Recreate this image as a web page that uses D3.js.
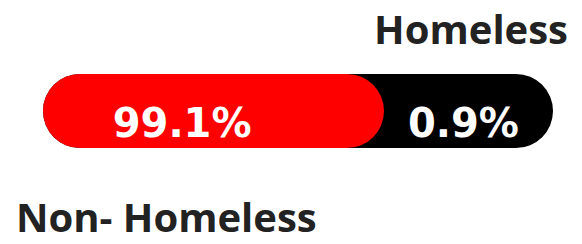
<!DOCTYPE html>
<html>
<head>
<meta charset="utf-8">
<script src="https://cdn.jsdelivr.net/npm/d3@7"></script>
<style>
  body { margin: 0; background: #fff; }
  svg { display: block; }
  .title { font-family: "Open Sans", sans-serif; font-weight: 700; font-size: 40px; fill: #222; }
  .pct { font-family: "DejaVu Sans", sans-serif; font-weight: 700; font-size: 40px; fill: #fff; }
</style>
</head>
<body>
<div id="chart"></div>
<script>
const categories = ["Non- Homeless", "Homeless"];
const values = [99.1, 0.9];
const valueLabels = ["99.1%", "0.9%"];
const colors = ["#ff0000", "#000000"];

const width = 582, height = 244;
const barLeft = 43, barRight = 553, barTop = 74, barHeight = 74;
const minSegment = 169; // small share gets a readable minimum width

const svg = d3.select("#chart").append("svg")
    .attr("width", width)
    .attr("height", height);

const x = d3.scaleLinear()
    .domain([0, d3.sum(values)])
    .range([0, barRight - barLeft]);

// widths: small value gets at least minSegment, the rest goes to the big one
const smallW = Math.max(x(values[1]), minSegment);
const segW = [x.range()[1] - smallW, smallW];

// black full pill behind, red pill on top
svg.append("rect")
    .attr("x", barLeft)
    .attr("y", barTop)
    .attr("width", barRight - barLeft)
    .attr("height", barHeight)
    .attr("rx", barHeight / 2)
    .attr("fill", colors[1]);

svg.append("rect")
    .attr("x", barLeft)
    .attr("y", barTop)
    .attr("width", segW[0])
    .attr("height", barHeight)
    .attr("rx", barHeight / 2)
    .attr("fill", colors[0]);

const baseline = barTop + 63;
svg.append("text")
    .attr("class", "pct")
    .attr("x", barLeft + segW[0] * 0.408)
    .attr("y", baseline)
    .attr("text-anchor", "middle")
    .text(valueLabels[0]);

svg.append("text")
    .attr("class", "pct")
    .attr("x", barLeft + segW[0] + smallW * 0.47)
    .attr("y", baseline)
    .attr("text-anchor", "middle")
    .text(valueLabels[1]);

svg.append("text")
    .attr("class", "title")
    .attr("x", 568)
    .attr("y", 44)
    .attr("text-anchor", "end")
    .text(categories[1]);

svg.append("text")
    .attr("class", "title")
    .attr("x", 16)
    .attr("y", 232)
    .text(categories[0]);
</script>
</body>
</html>
